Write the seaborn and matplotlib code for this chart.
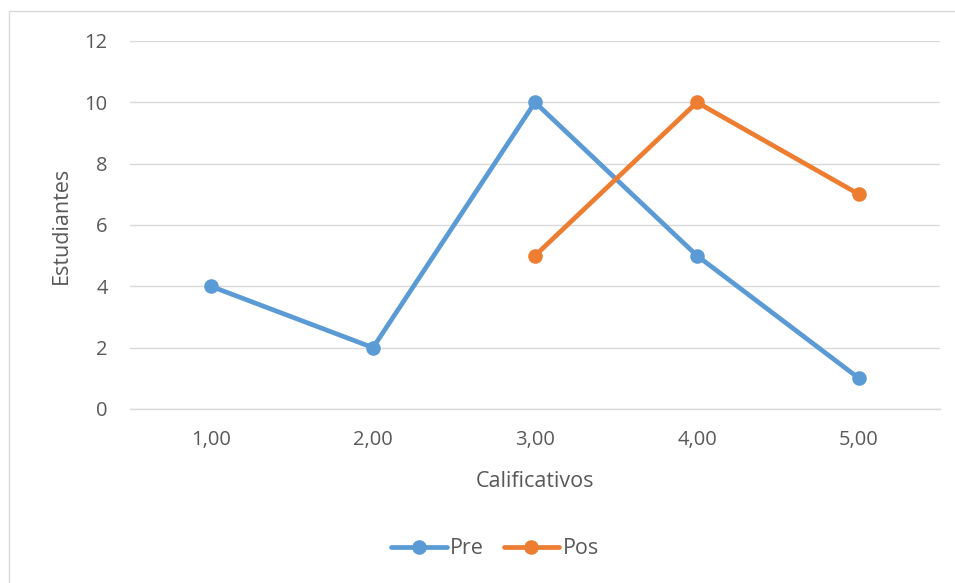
import numpy as np
import pandas as pd
import seaborn as sns
import matplotlib.pyplot as plt
from matplotlib.lines import Line2D

# chart data
categories = ["1,00", "2,00", "3,00", "4,00", "5,00"]
pre = [4, 2, 10, 5, 1]
pos = [np.nan, np.nan, 5, 10, 7]
y_ticks = [0, 2, 4, 6, 8, 10, 12]

df = pd.DataFrame({"cat": categories, "Pre": pre, "Pos": pos})
df["x"] = range(len(categories))

sns.set_style("white")
plt.rcParams["font.family"] = ["Open Sans", "DejaVu Sans"]

W, H = 955, 583
fig = plt.figure(figsize=(W / 100, H / 100), dpi=100)
ax = fig.add_axes([130 / W, 1 - 409 / H, 810 / W, 368 / H])

colors = {"Pre": "#5B9BD5", "Pos": "#ED7D31"}
for name in ["Pre", "Pos"]:
    sns.lineplot(data=df, x="x", y=name, ax=ax, color=colors[name], lw=3.4,
                 marker="o", markersize=10.5, markeredgewidth=0, label=name,
                 clip_on=False, zorder=3)

ax.set_xlim(-0.5, len(categories) - 0.5)
ax.set_ylim(0, 12)
ax.set_yticks(y_ticks)
ax.set_xticks(df["x"])
ax.set_xticklabels(categories)
ax.yaxis.grid(True, color="#D9D9D9", lw=1)
ax.set_axisbelow(True)
for s in ax.spines.values():
    s.set_visible(False)
ax.spines["bottom"].set_visible(True)
ax.spines["bottom"].set_color("#D9D9D9")
ax.spines["bottom"].set_linewidth(1)
ax.tick_params(length=0, colors="#595959", labelsize=14.5)
ax.tick_params(axis="y", pad=16)
ax.tick_params(axis="x", pad=15)
ax.set_xlabel("Calificativos", fontsize=15.5, color="#595959", labelpad=15)
ax.set_ylabel("Estudiantes", fontsize=15.5, color="#595959", labelpad=9)

ax.legend(loc="center", bbox_to_anchor=(495 / W, 1 - 549 / H), bbox_transform=fig.transFigure,
          ncol=2, frameon=False, fontsize=15.5, labelcolor="#595959", handlelength=2.6,
          handletextpad=0.15, columnspacing=0.9)

# chart border
fig.add_artist(Line2D([9 / W, 1], [1 - 11 / H, 1 - 11 / H], color="#D9D9D9", lw=1))
fig.add_artist(Line2D([9 / W, 9 / W], [0, 1 - 11 / H], color="#D9D9D9", lw=1))

fig.savefig("out.png", dpi=100, facecolor="white")
